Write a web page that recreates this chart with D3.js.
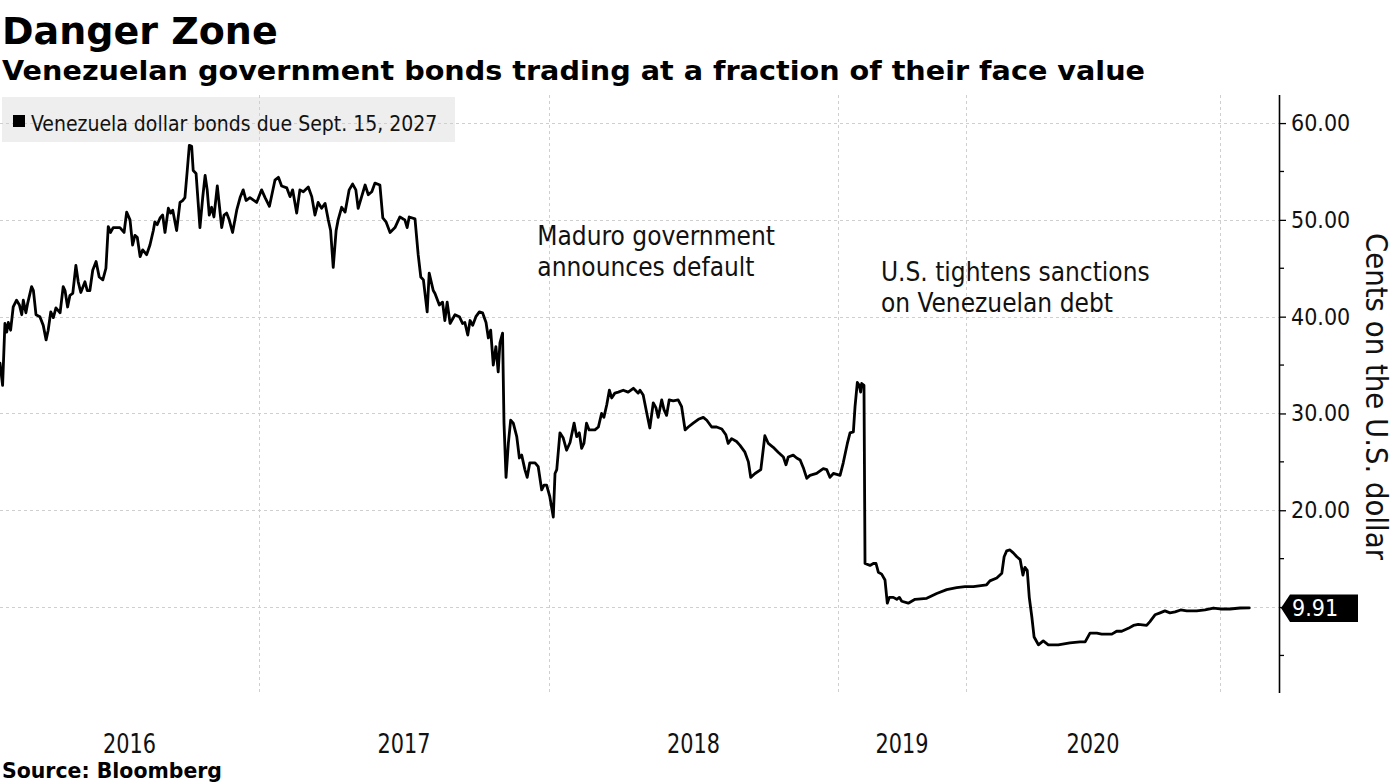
<!DOCTYPE html>
<html>
<head>
<meta charset="utf-8">
<script src="https://cdn.jsdelivr.net/npm/d3@7"></script>
<style>
  html, body { margin: 0; padding: 0; background: #ffffff; }
  svg { display: block; }
</style>
</head>
<body>
<svg id="chart" width="1395" height="784"></svg>
<script>
// ---------------- DATA ----------------
const titleText = "Danger Zone";
const subtitleText = "Venezuelan government bonds trading at a fraction of their face value";
const seriesName = "Venezuela dollar bonds due Sept. 15, 2027";
const sourceText = "Source: Bloomberg";
const yAxisTitle = "Cents on the U.S. dollar";
const yearLabels = [2016, 2017, 2018, 2019, 2020];
const yTickValues = [10, 20, 30, 40, 50, 60];
const yMinorTickValues = [5, 15, 25, 35, 45, 55];
const lastValue = 9.91;
const annotations = [
  { t: 2017.96, v: 47.4, lines: ["Maduro government", "announces default"] },
  { t: 2019.335, v: 43.7, lines: ["U.S. tightens sanctions", "on Venezuelan debt"] }
];

// dates as decimal years
const dates = [
2016.000,2016.010,2016.019,2016.026,2016.032,2016.041,2016.051,2016.064,2016.075,2016.084,
2016.090,2016.100,2016.107,2016.122,2016.129,2016.139,2016.154,2016.167,2016.178,2016.186,
2016.196,2016.206,2016.216,2016.232,2016.244,2016.251,2016.261,2016.270,2016.281,2016.293,
2016.302,2016.312,2016.328,2016.337,2016.347,2016.358,2016.371,2016.383,2016.397,2016.409,
2016.418,2016.427,2016.437,2016.463,2016.479,2016.489,2016.502,2016.512,2016.521,2016.530,
2016.541,2016.551,2016.566,2016.579,2016.592,2016.598,2016.607,2016.618,2016.628,2016.637,
2016.650,2016.659,2016.667,2016.682,2016.695,2016.705,2016.714,2016.723,2016.731,2016.740,
2016.746,2016.757,2016.772,2016.783,2016.792,2016.800,2016.808,2016.817,2016.826,2016.839,
2016.856,2016.865,2016.875,2016.885,2016.898,2016.914,2016.927,2016.939,2016.950,2016.965,
2016.991,
2017.009,2017.021,2017.036,2017.055,2017.067,2017.078,2017.096,2017.107,2017.116,2017.130,
2017.141,2017.153,2017.170,2017.182,2017.193,2017.204,2017.216,2017.228,2017.239,2017.247,
2017.256,2017.266,2017.273,2017.285,2017.297,2017.311,2017.323,2017.334,2017.342,2017.354,
2017.366,2017.377,2017.389,2017.400,2017.417,2017.427,2017.438,2017.452,2017.469,2017.486,
2017.503,2017.511,2017.518,2017.538,2017.549,2017.558,2017.567,2017.580,2017.587,2017.601,
2017.607,2017.622,2017.633,2017.641,2017.649,2017.659,2017.676,2017.691,2017.702,2017.710,
2017.720,2017.728,2017.737,2017.748,2017.760,2017.771,2017.783,2017.791,2017.799,2017.808,
2017.817,2017.825,2017.831,2017.840,2017.845,2017.852,2017.860,2017.868,2017.877,2017.889,
2017.898,2017.906,2017.917,2017.925,2017.934,2017.952,2017.963,2017.975,2017.983,2017.992,
2018.003,2018.015,2018.021,2018.027,2018.038,2018.049,2018.061,2018.073,2018.087,2018.096,
2018.105,2018.113,2018.121,2018.130,2018.139,2018.159,2018.171,2018.182,2018.190,2018.200,
2018.209,2018.217,2018.228,2018.240,2018.257,2018.274,2018.292,2018.309,2018.315,2018.326,
2018.338,2018.349,2018.361,2018.370,2018.378,2018.390,2018.398,2018.407,2018.416,2018.430,
2018.447,2018.459,2018.471,2018.482,2018.499,2018.517,2018.534,2018.546,2018.563,2018.580,
2018.598,2018.612,2018.620,2018.632,2018.649,2018.661,2018.678,2018.690,2018.698,2018.713,
2018.733,2018.747,2018.759,2018.776,2018.793,2018.811,2018.820,2018.828,2018.845,2018.857,
2018.869,2018.880,2018.892,2018.903,2018.926,2018.949,2018.961,2018.972,2018.984,
2019.016,2019.041,2019.073,2019.094,2019.120,2019.133,2019.151,2019.166,2019.177,2019.185,
2019.203,2019.211,2019.250,2019.276,2019.297,2019.315,2019.341,2019.367,2019.385,2019.401,
2019.432,2019.459,2019.479,2019.498,2019.549,2019.602,2019.693,2019.771,2019.849,2019.927,
2019.992,
2020.029,2020.081,2020.094,2020.121,2020.141,2020.150,2020.160,2020.173,2020.186,2020.200,
2020.213,2020.224,2020.232,2020.241,2020.249,2020.259,2020.268,2020.285,2020.304,2020.324,
2020.363,2020.409,2020.449,2020.469,2020.488,2020.515,2020.534,2020.574,2020.593,2020.613,
2020.639,2020.659,2020.678,2020.711,2020.724,2020.744,2020.764,2020.783,2020.803,2020.823,
2020.845,2020.869,2020.908,2020.941,2020.974,
2021.000,2021.039,2021.079,2021.115
];

// price in cents on the dollar
const values = [
35.2,32.9,39.3,38.4,39.4,38.6,41.0,41.7,41.2,40.2,
41.7,40.4,41.4,43.1,42.7,40.2,40.0,39.1,37.6,38.6,
40.5,39.9,40.9,40.4,43.1,42.7,41.0,42.2,42.4,45.3,
43.6,42.5,43.6,42.7,42.7,44.8,45.7,44.1,43.8,45.0,
49.3,48.7,49.2,49.2,48.7,50.8,50.0,47.4,48.4,48.2,
46.2,46.9,46.4,47.4,48.9,49.8,49.5,50.2,50.5,48.7,
51.2,50.7,51.0,48.9,51.8,52.0,52.3,55.1,57.7,57.6,
55.1,54.8,49.2,52.4,54.6,53.1,50.5,51.3,50.3,53.5,
49.2,50.5,50.7,50.0,48.7,51.0,52.3,53.1,52.0,52.3,
51.8,
53.1,52.3,51.4,54.1,54.4,53.5,53.3,52.4,53.1,50.7,
53.1,52.9,53.4,52.4,50.5,51.8,51.2,51.7,50.0,48.9,
45.1,48.9,50.0,51.3,50.8,53.1,53.7,53.1,51.2,52.4,
53.6,52.6,52.9,53.8,53.6,50.2,49.8,48.7,49.2,50.3,
50.0,49.2,50.3,50.1,46.4,44.1,43.8,40.5,44.5,42.7,
42.4,41.2,41.5,39.6,41.5,39.3,40.2,40.0,39.3,39.4,
38.1,39.6,39.1,40.0,40.5,40.4,39.4,37.8,38.6,35.0,
36.9,34.3,37.3,38.3,29.0,23.4,26.9,29.3,29.0,27.6,
25.4,25.7,24.2,23.4,24.9,24.9,24.5,22.1,22.6,22.6,
21.4,19.3,23.8,24.2,28.0,27.5,26.2,27.0,29.0,27.6,
28.0,26.4,26.9,29.0,28.3,28.3,28.6,30.0,29.6,30.9,
32.4,31.6,32.1,32.2,32.4,32.2,32.6,32.1,32.4,31.9,
30.1,28.5,31.1,30.6,29.6,31.4,30.4,29.8,31.4,31.3,
31.4,30.7,28.3,28.6,29.0,29.4,29.6,29.3,28.6,28.6,
28.4,27.8,26.9,27.4,27.1,26.7,26.0,25.0,23.4,23.8,
24.2,27.7,26.9,26.5,26.0,25.5,24.7,25.5,25.7,25.4,
25.2,24.4,23.3,23.6,23.8,24.3,24.2,23.4,23.8,
23.6,24.9,26.9,28.0,28.1,30.7,33.2,32.9,32.2,33.1,
32.9,14.5,14.3,14.5,14.5,13.6,13.4,12.8,10.4,11.0,
11.0,10.8,11.0,10.6,10.4,10.8,10.9,11.4,11.8,12.0,
12.1,
12.1,12.3,12.7,13.0,13.5,15.2,15.8,15.9,15.6,15.2,
14.9,13.3,14.1,13.8,11.0,9.0,6.9,6.1,6.5,6.1,
6.1,6.3,6.4,6.4,7.3,7.3,7.2,7.2,7.5,7.5,
7.8,8.1,8.2,8.1,8.5,9.2,9.4,9.6,9.4,9.5,
9.7,9.6,9.6,9.7,9.9,
9.8,9.8,9.9,9.91
];

// ---------------- LAYOUT ----------------
const svg = d3.select("#chart");
const W = 1395, H = 784;
const plot = { left: 0, right: 1279, top: 95, bottom: 693 };
const font = "'DejaVu Sans Condensed', 'DejaVu Sans', sans-serif";
const fontBold = "'DejaVu Sans', sans-serif";

svg.append("rect").attr("width", W).attr("height", H).attr("fill", "#ffffff");

// x scale: Bloomberg-style axis where each calendar year gets its own width
const yearBreaks = [2016, 2017, 2018, 2019, 2020, 2021, 2021.232];
const breakFrac = [0, 0.2025, 0.4292, 0.6552, 0.7553, 0.9539, 1];
const x = d3.scaleLinear()
  .domain(yearBreaks)
  .range(breakFrac.map(f => plot.left + f * (plot.right - plot.left)));

const y = d3.scaleLinear().domain([1.12, 62.9]).range([plot.bottom, plot.top]);

// legend background (under gridlines)
svg.append("rect")
  .attr("x", 2).attr("y", 97).attr("width", 453).attr("height", 45)
  .attr("fill", "#eeeeee");

// gridlines
const grid = svg.append("g").attr("stroke", "#cfcfcf").attr("stroke-width", 1)
  .attr("stroke-dasharray", "3,3").attr("fill", "none");
grid.selectAll("line.h").data(yTickValues).join("line")
  .attr("class", "h")
  .attr("x1", plot.left).attr("x2", plot.right)
  .attr("y1", d => Math.round(y(d)) + 0.5).attr("y2", d => Math.round(y(d)) + 0.5);
grid.selectAll("line.v").data(yearBreaks.slice(1, 6)).join("line")
  .attr("class", "v")
  .attr("x1", d => Math.round(x(d)) + 0.5).attr("x2", d => Math.round(x(d)) + 0.5)
  .attr("y1", plot.top).attr("y2", plot.bottom);

// legend content (above gridlines)
const legend = svg.append("g");
legend.append("rect").attr("x", 13).attr("y", 115).attr("width", 12).attr("height", 12).attr("fill", "#000");
legend.append("text")
  .attr("x", 31).attr("y", 131)
  .attr("font-family", font).attr("font-size", 21).attr("fill", "#111")
  .text(seriesName);

// line
const pts = dates.map((d, i) => [d, values[i]]);
const line = d3.line().x(d => x(d[0])).y(d => y(d[1]));
svg.append("path")
  .datum(pts)
  .attr("d", line)
  .attr("fill", "none")
  .attr("stroke", "#000")
  .attr("stroke-width", 2.8)
  .attr("stroke-linejoin", "round")
  .attr("stroke-linecap", "round");

// y axis on right (the 10.00 label is covered by the last-value tag)
const yAxis = d3.axisRight(y).tickValues(yTickValues).tickSize(7).tickPadding(5)
  .tickFormat(d => d === 10 ? "" : d3.format(".2f")(d));
const ya = svg.append("g").attr("transform", `translate(${plot.right},0)`).call(yAxis);
ya.select(".domain").attr("d", `M0.5,${plot.top}V${plot.bottom}`).attr("stroke", "#000").attr("stroke-width", 1.6);
ya.selectAll(".tick line").attr("stroke", "#000").attr("stroke-width", 1.3);
ya.selectAll(".tick text").attr("font-family", font).attr("font-size", 23).attr("fill", "#111");
ya.selectAll(".minor").data(yMinorTickValues).join("line")
  .attr("class", "minor")
  .attr("x1", 0).attr("x2", 5)
  .attr("y1", d => y(d)).attr("y2", d => y(d))
  .attr("stroke", "#000").attr("stroke-width", 1.3);

// y axis title
svg.append("text")
  .attr("transform", `translate(1366,${y(31.75)}) rotate(90)`)
  .attr("text-anchor", "middle")
  .attr("font-family", font).attr("font-size", 30).attr("fill", "#111")
  .attr("textLength", 327).attr("lengthAdjust", "spacingAndGlyphs")
  .text(yAxisTitle);

// last value label
const ly = y(lastValue);
const lx = plot.right + 2;
svg.append("path")
  .attr("d", `M${lx},${ly} L${lx + 9},${ly - 13.5} L${lx + 77},${ly - 13.5} L${lx + 77},${ly + 14} L${lx + 9},${ly + 14} Z`)
  .attr("fill", "#000");
svg.append("text")
  .attr("x", lx + 11).attr("y", ly).attr("dy", "0.36em")
  .attr("font-family", font).attr("font-size", 23).attr("fill", "#fff")
  .text(lastValue.toFixed(2));

// x year labels centered in each year's span
svg.selectAll("text.year").data(yearLabels).join("text")
  .attr("class", "year")
  .attr("x", d => x(d + 0.5)).attr("y", 753)
  .attr("text-anchor", "middle")
  .attr("font-family", font).attr("font-size", 27).attr("fill", "#111")
  .attr("textLength", 53).attr("lengthAdjust", "spacingAndGlyphs")
  .text(d => d);

// annotations
annotations.forEach(a => {
  const t = svg.append("text")
    .attr("font-family", font).attr("font-size", 26).attr("fill", "#111");
  a.lines.forEach((l, i) => {
    t.append("tspan").attr("x", x(a.t)).attr("y", y(a.v) + i * 31).text(l);
  });
});

// titles
svg.append("text").attr("x", 2).attr("y", 44)
  .attr("font-family", fontBold).attr("font-weight", "bold").attr("font-size", 38).attr("fill", "#000")
  .text(titleText);
svg.append("text").attr("x", 2).attr("y", 80)
  .attr("font-family", fontBold).attr("font-weight", "bold").attr("font-size", 27).attr("fill", "#000")
  .attr("textLength", 1143).attr("lengthAdjust", "spacingAndGlyphs")
  .text(subtitleText);
svg.append("text").attr("x", 2).attr("y", 778)
  .attr("font-family", fontBold).attr("font-weight", "bold").attr("font-size", 20.5).attr("fill", "#000")
  .attr("textLength", 220).attr("lengthAdjust", "spacingAndGlyphs")
  .text(sourceText);
</script>
</body>
</html>
